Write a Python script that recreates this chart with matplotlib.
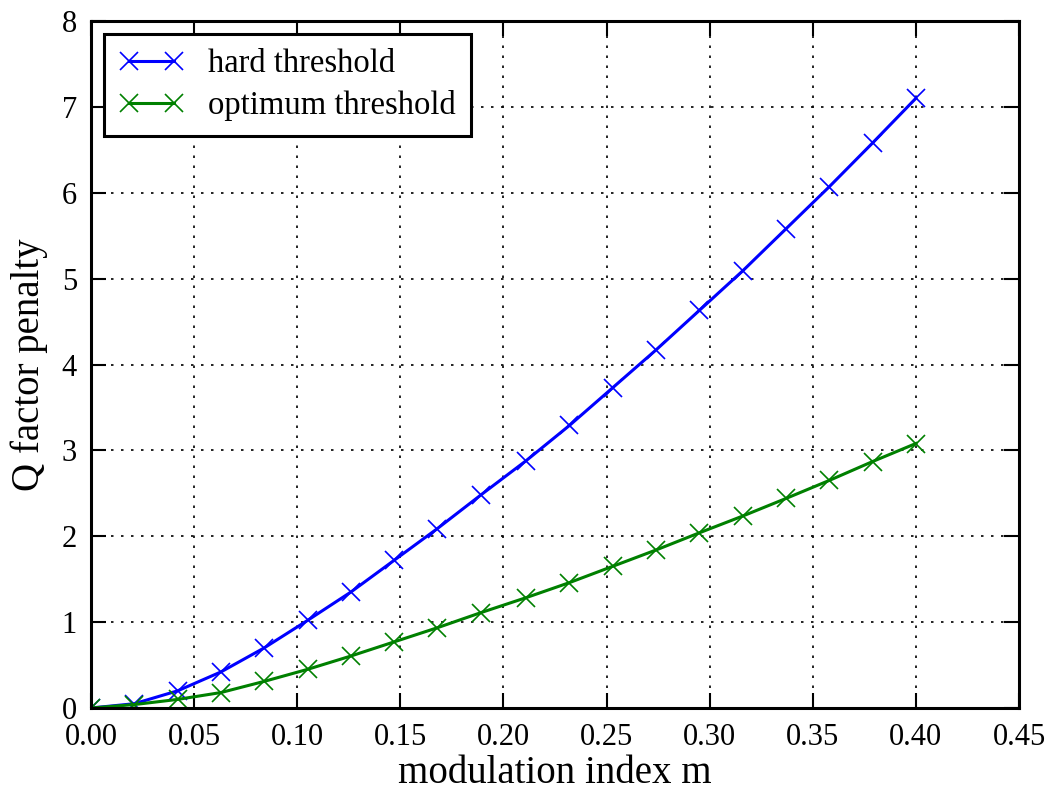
import matplotlib
matplotlib.use("Agg")
import matplotlib.pyplot as plt
import numpy as np

# modulation index samples (20 points, 0 .. 0.4)
m_vals = [0.0, 0.021, 0.042, 0.063, 0.084, 0.105, 0.126, 0.147, 0.168, 0.189,
          0.211, 0.232, 0.253, 0.274, 0.295, 0.316, 0.337, 0.358, 0.379, 0.400]
hard_vals = [0.0, 0.05, 0.20, 0.42, 0.70, 1.02, 1.35, 1.72, 2.09, 2.48,
             2.88, 3.29, 3.73, 4.17, 4.63, 5.09, 5.58, 6.07, 6.58, 7.10]
opt_vals = [0.0, 0.04, 0.10, 0.18, 0.31, 0.45, 0.605, 0.77, 0.935, 1.11,
            1.285, 1.46, 1.65, 1.84, 2.04, 2.235, 2.44, 2.65, 2.87, 3.08]
xticks = [0.00, 0.05, 0.10, 0.15, 0.20, 0.25, 0.30, 0.35, 0.40, 0.45]
yticks = [0, 1, 2, 3, 4, 5, 6, 7, 8]

plt.rcParams['font.family'] = ['Liberation Serif', 'DejaVu Serif']

fig = plt.figure(figsize=(10.5, 7.91), dpi=100)
ax = fig.add_axes([91/1050, 83/791, 928/1050, 687/791])

ax.plot(m_vals, hard_vals, color='blue', lw=2.2, marker='x', ms=13, mew=1.2,
        label='hard threshold')
ax.plot(m_vals, opt_vals, color='green', lw=2.2, marker='x', ms=13, mew=1.2,
        label='optimum threshold')

ax.set_xlim(0, 0.45)
ax.set_ylim(0, 8)
ax.set_xticks(xticks)
ax.set_xticklabels(['%.2f' % t for t in xticks])
ax.set_yticks(yticks)

ax.grid(True, color='black', linestyle=(0, (1.5, 4.5)), lw=1.2)
ax.tick_params(direction='in', length=11, width=1.5, top=True, right=True,
               labelsize=22)
ax.tick_params(axis='x', pad=11)
ax.tick_params(axis='y', pad=10)
for s in ['top', 'bottom', 'left', 'right']:
    ax.spines[s].set_linewidth(2.2)

ax.set_xlabel('modulation index m', fontsize=28, labelpad=2)
ax.set_ylabel('Q factor penalty', fontsize=28, labelpad=10)

leg = ax.legend(loc='upper left', numpoints=2, fontsize=23.5, fancybox=False,
                framealpha=1, edgecolor='black', handlelength=2.0,
                handletextpad=0.75, borderaxespad=0.4, borderpad=0.45,
                labelspacing=0.33)
leg.get_frame().set_linewidth(2.2)

fig.savefig('out.png', dpi=100)
